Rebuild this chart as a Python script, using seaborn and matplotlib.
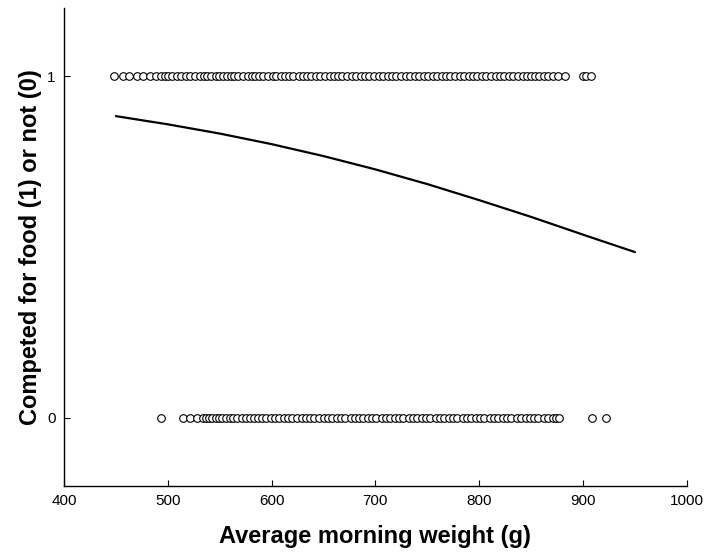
import matplotlib
matplotlib.use("Agg")
import matplotlib.pyplot as plt
import seaborn as sns
import pandas as pd

# Birds that competed for food (1): average morning weight in grams
weights_competed = [
    448, 457, 463, 470, 476, 483, 489, 493, 497, 500, 504, 509, 513, 518, 521,
    526, 531, 535, 538, 542, 546, 549, 553, 557, 561, 564, 568, 572, 577, 581,
    584, 588, 592, 597, 601, 604, 609, 613, 617, 621, 626, 630, 634, 638, 643,
    647, 651, 656, 660, 664, 668, 673, 677, 681, 686, 690, 694, 699, 703, 707,
    712, 716, 720, 725, 729, 733, 738, 742, 747, 751, 755, 759, 764, 768, 772,
    777, 781, 785, 790, 794, 798, 803, 807, 811, 816, 820, 824, 829, 833, 837,
    842, 846, 850, 854, 858, 862, 866, 871, 876, 883, 900, 903, 908,
]

# Birds that did not compete (0)
weights_not_competed = [
    493, 515, 521, 528, 534, 537, 540, 543, 546, 549, 552, 556, 560, 563, 567,
    571, 575, 579, 583, 587, 591, 595, 599, 603, 607, 612, 616, 620, 624, 629,
    633, 637, 641, 646, 650, 654, 658, 663, 667, 671, 676, 680, 684, 688, 693,
    697, 701, 706, 710, 714, 719, 723, 727, 732, 736, 740, 745, 749, 753, 758,
    762, 766, 771, 775, 779, 784, 788, 792, 797, 801, 805, 810, 814, 818, 823,
    827, 831, 836, 840, 845, 849, 853, 857, 862, 866, 871, 874, 877, 909, 922,
]

# Fitted probability of competing across weight
fit_weight = [450, 500, 550, 600, 650, 700, 750, 800, 850, 900, 950]
fit_prob = [0.883, 0.859, 0.832, 0.801, 0.766, 0.727, 0.684, 0.637, 0.588, 0.536, 0.485]

x_ticks = [400, 500, 600, 700, 800, 900, 1000]
y_ticks = [0, 1]

obs = pd.DataFrame({
    "weight": weights_competed + weights_not_competed,
    "competed": [1] * len(weights_competed) + [0] * len(weights_not_competed),
})
fit = pd.DataFrame({"weight": fit_weight, "prob": fit_prob})

sns.set_theme(style="ticks")
plt.rcParams["font.family"] = ["Liberation Sans", "DejaVu Sans"]

fig = plt.figure(figsize=(7.07, 5.6), dpi=100)
ax = fig.add_axes([0.0905, 0.132, 0.881, 0.854])

sns.scatterplot(data=obs, x="weight", y="competed", ax=ax, marker="o",
                s=30, facecolor="white", edgecolor="black", linewidth=0.8,
                zorder=3)
sns.lineplot(data=fit, x="weight", y="prob", ax=ax, color="black",
             linewidth=1.6, zorder=4)

ax.set_xlim(400, 1000)
ax.set_ylim(-0.2, 1.2)
ax.set_xticks(x_ticks)
ax.set_yticks(y_ticks)
ax.tick_params(direction="in", length=4, width=0.8, labelsize=11,
               colors="black", pad=6)
for side in ("top", "right"):
    ax.spines[side].set_visible(False)
for side in ("left", "bottom"):
    ax.spines[side].set_color("black")
    ax.spines[side].set_linewidth(1.0)

ax.set_xlabel("Average morning weight (g)", fontsize=17, fontweight="bold",
              labelpad=12, color="black")
ax.set_ylabel("Competed for food (1) or not (0)", fontsize=17,
              fontweight="bold", labelpad=4, color="black")

fig.savefig("out.png", dpi=100)
